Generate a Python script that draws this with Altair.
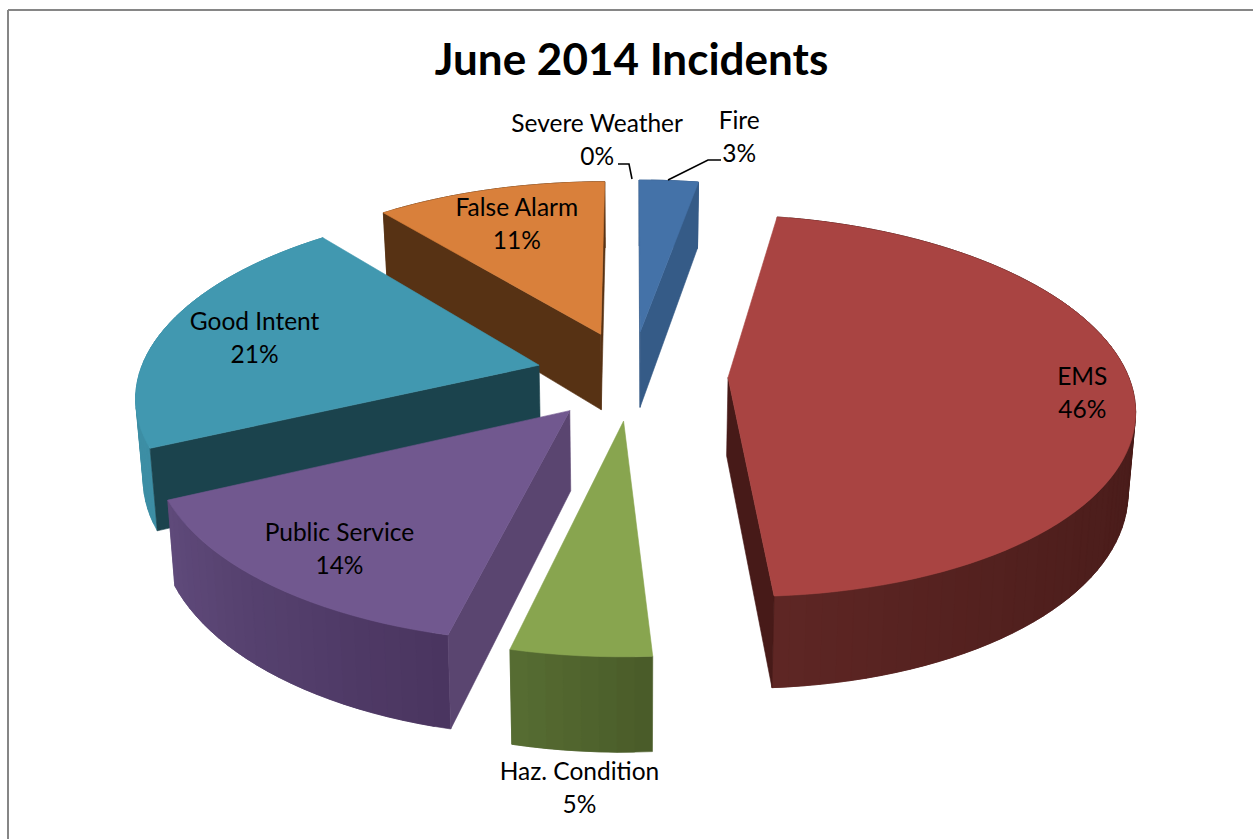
import numpy as np
import pandas as pd
import altair as alt

W, H = 1253, 839

# Slice order runs clockwise from twelve o'clock; labels show the shares rounded.
names = ["Fire", "EMS", "Haz. Condition", "Public Service", "Good Intent", "False Alarm", "Severe Weather"]
shares = [2.8, 46.2, 4.7, 14.3, 21.1, 10.9, 0]
top_colors = ["#4472a8", "#a94442", "#88a54f", "#71588f", "#4198b0", "#d9803b", "#7f7f7f"]
cut_colors = ["#355b87", "#471a18", "#566c32", "#5a4570", "#1b434d", "#573214", "#5f5f5f"]
rim_start = ["#355b87", "#451a18", "#4a5c29", "#4a3560", "#3d8ea5", "#573214", "#5f5f5f"]
rim_end = ["#355b87", "#5e2624", "#566c32", "#5f4a7a", "#3d8ea5", "#573214", "#5f5f5f"]
rim_ramp = [1, 3, 1, 1, 1, 1, 1]
paint_order = ["Fire", "False Alarm", "EMS", "Good Intent", "Public Service", "Haz. Condition"]

# Label anchors in pie-plane units (across, towards the viewer).
label_u = [0.33, 1.11, -0.099, -0.643, -0.972, -0.327, -0.107]
label_v = [-1.576, 0.095, 1.674, 0.822, -0.205, -0.922, -1.551]

# Leader lines from the two outer labels at the top.
leader_group = ["Fire", "Fire", "Fire", "Severe", "Severe", "Severe"]
leader_x = [721, 708, 668, 618, 629, 632]
leader_y = [160, 160, 180, 164, 164, 179]

# Perspective camera and pie proportions.
CX, CY = 632.0, 375.0
SCALE_X, SCALE_Y = 400.0, 186.0
PERSP = 0.147
EXPLODE = 0.24
DEPTH = 78.0
BOTTOM_SHRINK = 0.985


def top_point(u, v):
    w = 1 - PERSP * v
    return CX + SCALE_X * u / w, CY + SCALE_Y * v / w


def bottom_point(u, v):
    x, y = top_point(u, v)
    return CX + (x - CX) * BOTTOM_SHRINK, y + DEPTH / (1 - PERSP * v)


def mix(a, b, t):
    ca = [int(a[i:i + 2], 16) for i in (1, 3, 5)]
    cb = [int(b[i:i + 2], 16) for i in (1, 3, 5)]
    return "#" + "".join(f"{round(p + (q - p) * t):02x}" for p, q in zip(ca, cb))


def face(points, fill):
    ring = [[float(x), float(y)] for x, y in points]
    ring.append(ring[0])
    return {
        "type": "Feature",
        "properties": {"fill": fill},
        "geometry": {"type": "Polygon", "coordinates": [ring]},
    }


def signed_area(points):
    total = 0.0
    for (x0, y0), (x1, y1) in zip(points, points[1:] + points[:1]):
        total += x0 * y1 - x1 * y0
    return total


edges = np.cumsum([0] + shares) / 100 * 360
features = []
for name in paint_order:
    i = names.index(name)
    a0, a1 = edges[i], edges[i + 1]
    mid = np.radians((a0 + a1) / 2)
    ou, ov = EXPLODE * np.sin(mid), -EXPLODE * np.cos(mid)
    thetas = np.radians(np.linspace(a0, a1, max(3, int((a1 - a0) / 2) + 1)))
    rim = [(ou + np.sin(t), ov - np.cos(t)) for t in thetas]

    # Outer wall as strips that overlap the next step, shaded along the arc.
    last = len(rim) - 1
    for k in range(last):
        shade = mix(rim_start[i], rim_end[i], (k / max(1, last - 1)) ** rim_ramp[i])
        span = rim[k:min(k + 3, last + 1)]
        features.append(face([top_point(*p) for p in span]
                             + [bottom_point(*p) for p in reversed(span)], shade))

    # Cut walls, only where they turn towards the viewer.
    for p, facing in ((rim[0], -1), (rim[-1], 1)):
        wall = [top_point(ou, ov), top_point(*p), bottom_point(*p), bottom_point(ou, ov)]
        if signed_area(wall) * facing > 0:
            features.append(face(wall, cut_colors[i]))

    # Top face.
    features.append(face([top_point(ou, ov)] + [top_point(*p) for p in rim], top_colors[i]))

x_scale = alt.Scale(domain=[0, W], nice=False, zero=False)
y_scale = alt.Scale(domain=[H, 0], nice=False, zero=False)
ex = alt.X("x:Q", scale=x_scale, axis=None)
ey = alt.Y("y:Q", scale=y_scale, axis=None)

faces = (
    alt.Chart(alt.Data(values=features))
    .mark_geoshape(strokeWidth=0.6)
    .encode(fill=alt.Fill("properties.fill:N", scale=None),
            stroke=alt.Stroke("properties.fill:N", scale=None))
    .project(type="identity", scale=1, translate=[0, 0])
)

anchors = [top_point(u, v) for u, v in zip(label_u, label_v)]
labels = pd.DataFrame({
    "name": names,
    "pct": [f"{round(s)}%" for s in shares],
    "x": [a[0] for a in anchors],
    "y": [a[1] for a in anchors],
})
label_font = dict(font="Lato", fontSize=24.5, color="#000000", align="center", baseline="middle")
name_text = alt.Chart(labels).mark_text(dy=-15, **label_font).encode(x=ex, y=ey, text="name:N")
pct_text = alt.Chart(labels).mark_text(dy=18, **label_font).encode(x=ex, y=ey, text="pct:N")

leaders = (
    alt.Chart(pd.DataFrame({"g": leader_group, "x": leader_x, "y": leader_y, "o": range(6)}))
    .mark_line(color="#000000", strokeWidth=1.6)
    .encode(x=ex, y=ey, detail="g:N", order="o:Q")
)

title = (
    alt.Chart(pd.DataFrame({"t": ["June 2014 Incidents"], "x": [631.5], "y": [62]}))
    .mark_text(font="Lato", fontSize=44, fontWeight="bold", color="#000000",
               align="center", baseline="middle")
    .encode(x=ex, y=ey, text="t:N")
)

frame_left = alt.Chart(pd.DataFrame({"x": [8], "y": [10], "y2": [H]})).mark_rule(
    color="#868686", strokeWidth=2).encode(x=ex, y=ey, y2="y2:Q")
frame_top = alt.Chart(pd.DataFrame({"x": [8], "x2": [W], "y": [10]})).mark_rule(
    color="#868686", strokeWidth=2).encode(x=ex, x2="x2:Q", y=ey)

chart = (
    alt.layer(frame_left, frame_top, faces, leaders, name_text, pct_text, title)
    .properties(width=W, height=H, padding=0, autosize=alt.AutoSizeParams(type="none"),
                background="#ffffff")
    .configure_view(stroke=None)
)

chart.save("out.html", embed_options={"renderer": "svg", "actions": False})
